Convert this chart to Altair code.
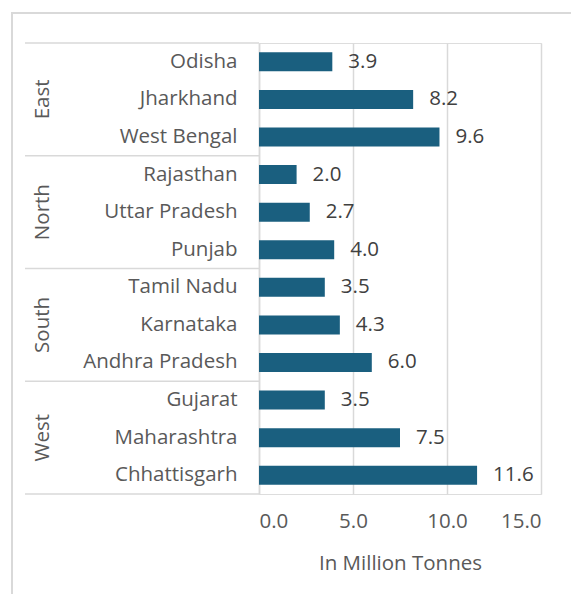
import altair as alt
import pandas as pd

regions = ["East", "East", "East", "North", "North", "North",
           "South", "South", "South", "West", "West", "West"]
states = ["Odisha", "Jharkhand", "West Bengal", "Rajasthan", "Uttar Pradesh", "Punjab",
          "Tamil Nadu", "Karnataka", "Andhra Pradesh", "Gujarat", "Maharashtra", "Chhattisgarh"]
values = [3.9, 8.2, 9.6, 2.0, 2.7, 4.0, 3.5, 4.3, 6.0, 3.5, 7.5, 11.6]

group_names = ["East", "North", "South", "West"]
group_first = ["Odisha", "Rajasthan", "Tamil Nadu", "Gujarat"]
group_mid = ["Jharkhand", "Uttar Pradesh", "Karnataka", "Maharashtra"]
last_state = ["Chhattisgarh"]

FONT = "Open Sans"
FS = 20.5
TXT = "#595959"
GRID = "#d9d9d9"

df = pd.DataFrame({"region": regions, "state": states, "value": values})
gdf = pd.DataFrame({"region": group_names, "first": group_first, "mid": group_mid})
ldf = pd.DataFrame({"state": last_state})

yscale = alt.Scale(domain=states, paddingInner=0, paddingOuter=0)
xscale = alt.Scale(domain=[0, 15])

base = alt.Chart(df)

bars = base.mark_bar(color="#1a5f7f", size=19).encode(
    x=alt.X("value:Q", scale=xscale,
            axis=alt.Axis(values=[0, 5, 10, 15], format=".1f", title="In Million Tonnes",
                          domain=False, ticks=False, grid=True, gridColor=GRID, gridWidth=1.5,
                          labelFont=FONT, labelFontSize=FS, labelColor=TXT, labelPadding=17,
                          titleFont=FONT, titleFontSize=FS, titleColor=TXT, titleFontWeight="normal",
                          titlePadding=22)),
    y=alt.Y("state:N", scale=yscale, sort=states,
            axis=alt.Axis(title=None, ticks=False, domain=True, domainColor=GRID, domainWidth=1.5,
                          labelFont=FONT, labelFontSize=FS, labelColor=TXT, labelPadding=22)),
)

labels = base.mark_text(align="left", baseline="middle", dx=16, font=FONT, fontSize=FS,
                        color="#404040").encode(
    x=alt.X("value:Q", scale=xscale),
    y=alt.Y("state:N", scale=yscale, sort=states),
    text=alt.Text("value:Q", format=".1f"),
)

gbase = alt.Chart(gdf)
glabels = gbase.mark_text(angle=270, align="center", baseline="middle", font=FONT, fontSize=FS,
                          color=TXT).encode(
    x=alt.value(-216),
    y=alt.Y("mid:N", scale=yscale, sort=states),
    text="region:N",
)
grules = gbase.mark_rule(color=GRID, strokeWidth=1.5).encode(
    x=alt.value(-234), x2=alt.value(0),
    y=alt.Y("first:N", scale=yscale, sort=states, bandPosition=0),
)
lrule = alt.Chart(ldf).mark_rule(color=GRID, strokeWidth=1.5).encode(
    x=alt.value(-234), x2=alt.value(0),
    y=alt.Y("state:N", scale=yscale, sort=states, bandPosition=1),
)

border = alt.Chart(ldf).mark_rect(fill=None, stroke=GRID, strokeWidth=2).encode(
    x=alt.value(-247), x2=alt.value(340),
    y=alt.value(-30), y2=alt.value(580),
)

chart = alt.layer(border, grules, lrule, bars, labels, glabels).properties(
    width=282, height=451,
    padding={"left": 251, "top": 35, "right": 30, "bottom": 100},
    autosize=alt.AutoSizeParams(type="none"),
).configure_view(stroke=None).configure(background="white")

chart.save("out.html", embed_options={"renderer": "svg", "actions": False})
